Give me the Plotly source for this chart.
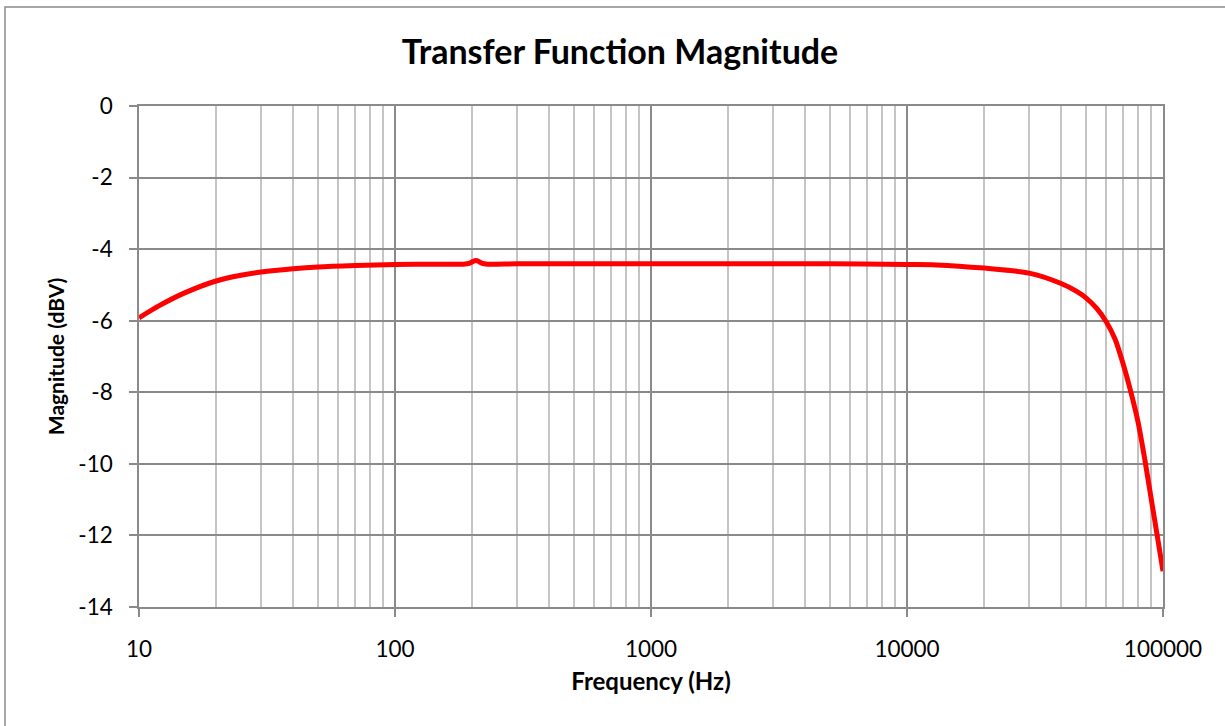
import plotly.graph_objects as go

# Frequency (Hz) and magnitude (dBV)
freq = [10, 12, 15, 20, 25, 30, 40, 50, 70, 100, 150, 185, 195, 201,
        207, 213, 219, 230, 300, 500, 1000, 2000, 5000, 10000, 13000, 20000, 30000,
        40000, 46000, 50000, 55000, 60000, 65000, 70000, 75000, 80000, 85000,
        90000, 95000, 100000]
mag = [-5.92, -5.58, -5.23, -4.89, -4.73, -4.64, -4.55, -4.50, -4.46, -4.43, -4.42,
       -4.42, -4.40, -4.35, -4.32, -4.35, -4.40, -4.42, -4.41, -4.41, -4.41, -4.41,
       -4.41, -4.43, -4.44, -4.53, -4.67, -4.96, -5.18, -5.36, -5.65, -6.03, -6.52,
       -7.23, -8.01, -8.85, -9.90, -10.99, -12.02, -13.0]

x_tickvals = [10, 100, 1000, 10000, 100000]
x_ticktext = ["10", "100", "1000", "10000", "100000"]
y_tickvals = [0, -2, -4, -6, -8, -10, -12, -14]
y_ticktext = ["0", "-2", "-4", "-6", "-8", "-10", "-12", "-14"]

minor_vals = [m * 10 ** d for d in range(1, 5) for m in range(2, 10)]

W, H = 1225, 726
L, R, T, B = 139, 62, 106, 119
pw, ph = W - L - R, H - T - B

FONT = "Lato, 'Open Sans', sans-serif"
MAJ = "#8a8a8a"
MIN = "#c4c4c4"

fig = go.Figure()
fig.add_trace(go.Scatter(
    x=freq, y=mag, mode="lines",
    line=dict(color="#ff0000", width=5, shape="spline", smoothing=0.8),
    showlegend=False,
))

fig.update_layout(
    width=W, height=H,
    margin=dict(l=L, r=R, t=T, b=B),
    paper_bgcolor="white", plot_bgcolor="white",
    font=dict(family=FONT, color="black"),
    title=dict(text="<b>Transfer Function Magnitude</b>",
               font=dict(size=34, family=FONT, color="black"),
               x=620 / W, xanchor="center",
               y=1 - 52 / H, yanchor="middle"),
    xaxis=dict(
        type="log", range=[1, 5],
        tickmode="array", tickvals=x_tickvals, ticktext=x_ticktext,
        tickfont=dict(size=22.5, family=FONT),
        ticks="outside", ticklen=8, tickcolor=MAJ, tickwidth=1.5,
        ticklabelstandoff=13,
        showgrid=True, gridcolor=MAJ, gridwidth=1.5,
        minor=dict(tickmode="array", tickvals=minor_vals, showgrid=True,
                   gridcolor=MIN, gridwidth=1.5, ticks=""),
        showline=True, linecolor=MAJ, linewidth=1.5, mirror=True,
        zeroline=False,
        title=dict(text="<b>Frequency (Hz)</b>",
                   font=dict(size=24, family=FONT), standoff=12),
    ),
    yaxis=dict(
        range=[-14, 0], tickmode="array", tickvals=y_tickvals, ticktext=y_ticktext,
        tickfont=dict(size=22.5, family=FONT),
        ticks="outside", ticklen=8, tickcolor=MAJ, tickwidth=1.5,
        ticklabelstandoff=12,
        showgrid=True, gridcolor=MAJ, gridwidth=1.5,
        showline=True, linecolor=MAJ, linewidth=1.5, mirror=True,
        zeroline=False,
        title=dict(text="<b>Magnitude (dBV)</b>",
                   font=dict(size=21, family=FONT), standoff=8),
    ),
)

# chart outer border
fig.add_shape(type="rect", xref="paper", yref="paper",
              x0=(5 - L) / pw, x1=(W + 10 - L) / pw,
              y0=(ph + T - (H + 10)) / ph, y1=(ph + T - 7) / ph,
              line=dict(color="#8a8a8a", width=1.5), layer="below")

fig.write_html("out.html", config={"displayModeBar": False},
               post_script="document.body.style.margin='0';document.body.style.overflow='hidden';")
